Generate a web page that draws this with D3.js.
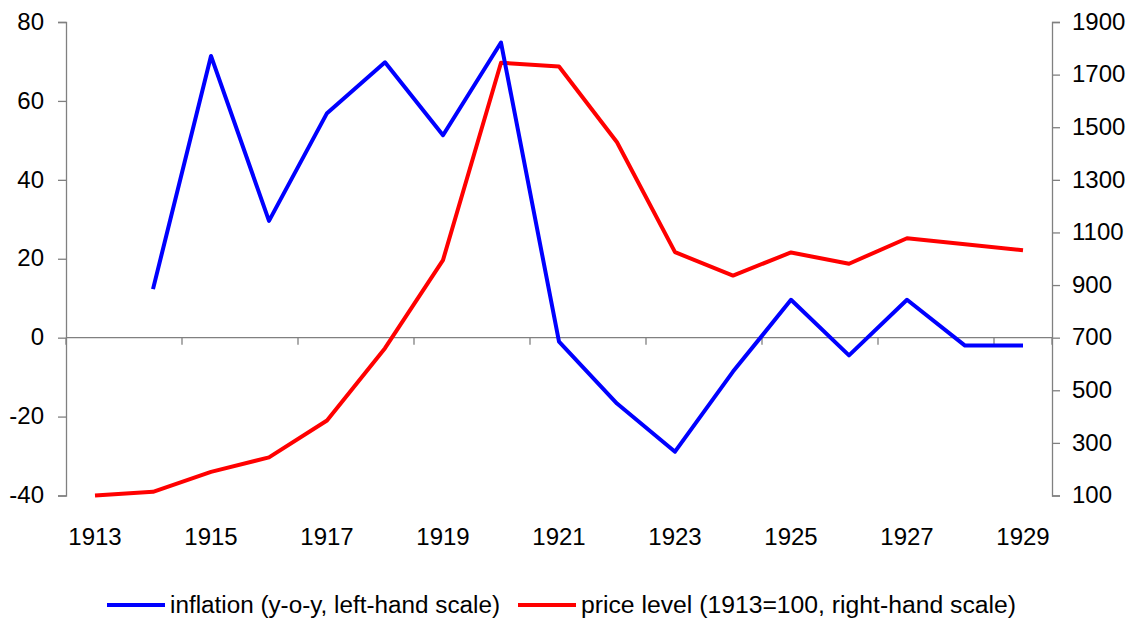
<!DOCTYPE html>
<html>
<head>
<meta charset="utf-8">
<script src="https://cdn.jsdelivr.net/npm/d3@7"></script>
<style>
  body { margin: 0; background: #fff; }
  svg text { font-family: "Liberation Sans", Arial, sans-serif; fill: #000; }
</style>
</head>
<body>
<svg id="chart" width="1135" height="621"></svg>
<script>
const years = ["1913","1914","1915","1916","1917","1918","1919","1920","1921","1922","1923","1924","1925","1926","1927","1928","1929"];
const inflation = [null, 12.3, 71.4, 29.6, 56.9, 69.8, 51.3, 74.8, -1.0, -16.7, -28.9, -8.6, 9.6, -4.5, 9.6, -2.0, -2.0];
const priceLevel = [100, 114, 190, 245, 385, 660, 995, 1745, 1731, 1443, 1025, 936, 1024, 981, 1078, 1055, 1032];
const leftTicks = [-40, -20, 0, 20, 40, 60, 80];
const rightTicks = [100, 300, 500, 700, 900, 1100, 1300, 1500, 1700, 1900];
const xLabelYears = ["1913","1915","1917","1919","1921","1923","1925","1927","1929"];
const seriesNames = ["inflation (y-o-y, left-hand scale)", "price level (1913=100, right-hand scale)"];
const seriesColors = ["#0000ff", "#ff0000"];

const svg = d3.select("#chart");
const mLeft = 66, mRight = 1052, mTop = 22, mBottom = 495.5;

const x = d3.scaleBand().domain(years).range([mLeft, mRight]).padding(0);
const yL = d3.scaleLinear().domain([-40, 80]).range([mBottom, mTop]);
const yR = d3.scaleLinear().domain([100, 1900]).range([mBottom, mTop]);
const axisColor = "#808080";
const fmt = d => String(d);

// left axis
const gL = svg.append("g").attr("transform", `translate(${mLeft},0)`)
  .call(d3.axisLeft(yL).tickValues(leftTicks).tickFormat(fmt).tickSize(8).tickPadding(14));
// right axis
const gR = svg.append("g").attr("transform", `translate(${mRight},0)`)
  .call(d3.axisRight(yR).tickValues(rightTicks).tickFormat(fmt).tickSize(8).tickPadding(12));
[gL, gR].forEach(g => {
  g.select(".domain").attr("stroke", axisColor).attr("stroke-width", 1.3);
  g.selectAll(".tick line").attr("stroke", axisColor).attr("stroke-width", 1.3);
  g.selectAll(".tick text").attr("font-size", 24).attr("dy", "0.3em")
    .attr("font-family", "Liberation Sans, Arial, sans-serif");
});

// x axis line at zero
const y0 = yL(0);
svg.append("line").attr("x1", mLeft).attr("x2", mRight).attr("y1", y0).attr("y2", y0)
  .attr("stroke", axisColor).attr("stroke-width", 1.3);
// tick marks at every other band boundary
const boundaries = years.map((d, i) => i).filter(i => i % 2 === 0).concat([years.length]);
svg.selectAll(".xtick").data(boundaries).enter().append("line")
  .attr("x1", i => mLeft + i * x.step()).attr("x2", i => mLeft + i * x.step())
  .attr("y1", y0).attr("y2", y0 + 7)
  .attr("stroke", axisColor).attr("stroke-width", 1.3);
// x labels
svg.selectAll(".xlabel").data(xLabelYears).enter().append("text")
  .attr("x", d => x(d) + x.bandwidth() / 2).attr("y", 545)
  .attr("text-anchor", "middle").attr("font-size", 24).text(d => d);

// lines
const lineL = d3.line().defined(d => d.v !== null)
  .x(d => x(d.year) + x.bandwidth() / 2).y(d => yL(d.v));
const lineR = d3.line()
  .x(d => x(d.year) + x.bandwidth() / 2).y(d => yR(d.v));

svg.append("path").datum(years.map((y, i) => ({year: y, v: priceLevel[i]})))
  .attr("d", lineR).attr("fill", "none").attr("stroke", seriesColors[1])
  .attr("stroke-width", 4).attr("stroke-linejoin", "round");
svg.append("path").datum(years.map((y, i) => ({year: y, v: inflation[i]})))
  .attr("d", lineL).attr("fill", "none").attr("stroke", seriesColors[0])
  .attr("stroke-width", 4).attr("stroke-linejoin", "round");

// legend
const legendItems = [
  {name: seriesNames[0], color: seriesColors[0], x0: 107, w: 330},
  {name: seriesNames[1], color: seriesColors[1], x0: 518, w: 435}
];
const lg = svg.append("g");
legendItems.forEach(it => {
  lg.append("line").attr("x1", it.x0).attr("x2", it.x0 + 58).attr("y1", 605).attr("y2", 605)
    .attr("stroke", it.color).attr("stroke-width", 4);
  lg.append("text").attr("x", it.x0 + 63).attr("y", 613).attr("font-size", 23)
    .attr("textLength", it.w).attr("lengthAdjust", "spacingAndGlyphs").text(it.name);
});
</script>
</body>
</html>
